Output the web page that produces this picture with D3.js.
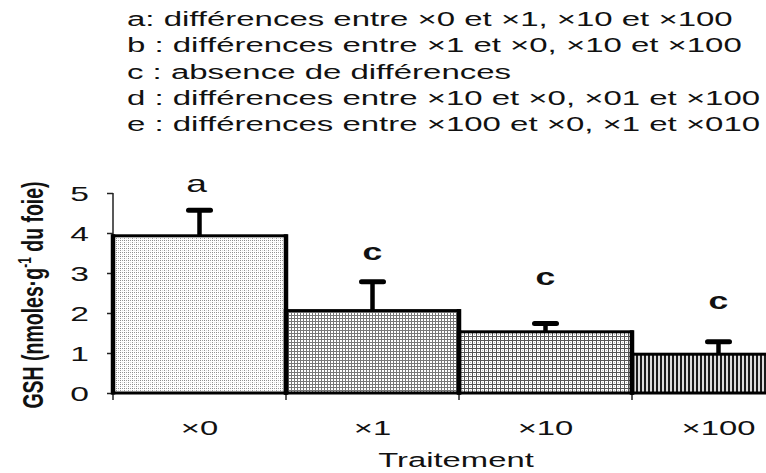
<!DOCTYPE html>
<html>
<head>
<meta charset="utf-8">
<script src="https://cdn.jsdelivr.net/npm/d3@7"></script>
<style>
  body { margin: 0; background: #fff; }
  text { font-family: "Liberation Sans", Arial, sans-serif; fill: #111; }
</style>
</head>
<body>
<div id="plot"></div>
<script>
// values
const categories = ['×0', '×1', '×10', '×100'];
const means = [3.93, 2.06, 1.53, 0.97];
const errors = [0.64, 0.72, 0.21, 0.31];
const letters = ['a', 'c', 'c', 'c'];
const letterLevels = [5.03, 3.33, 2.7, 2.1];
const yTicks = [0, 1, 2, 3, 4, 5];
const legendLines = [
  'a: différences entre  ×0 et ×1, ×10 et ×100',
  'b : différences entre ×1 et ×0, ×10 et ×100',
  'c : absence de différences',
  'd : différences entre ×10 et ×0, ×01 et ×100',
  'e : différences entre ×100 et ×0, ×1 et ×010'
];

const W = 766, H = 473;
const K = 1.6; // the original figure is stretched sideways

const svg = d3.select('#plot')
  .append('svg')
  .attr('width', W)
  .attr('height', H);

svg.append('rect').attr('width', W).attr('height', H).attr('fill', '#fff');

// fill patterns of the four bars
const defs = svg.append('defs');
function pattern(id, w, h, parts) {
  const p = defs.append('pattern')
    .attr('id', id)
    .attr('patternUnits', 'userSpaceOnUse')
    .attr('width', w)
    .attr('height', h);
  p.append('rect').attr('width', w).attr('height', h).attr('fill', '#fff');
  parts.forEach(([px, py, pw, ph, c]) => {
    p.append('rect').attr('x', px).attr('y', py).attr('width', pw).attr('height', ph).attr('fill', c);
  });
}
pattern('p0', 4, 4, [[0, 0, 1, 1, '#888'], [2, 0, 1, 1, '#999'], [0, 2, 1, 1, '#999'], [2, 2, 1, 1, '#ddd']]);
pattern('p1', 3, 3, [[0, 0, 3, 1, '#777'], [0, 0, 1, 3, '#777']]);
pattern('p2', 4, 4, [[0, 0, 4, 1, '#555'], [0, 0, 1, 4, '#555'], [2, 2, 1, 1, '#bbb']]);
pattern('p3', 4, 4, [[0, 0, 2, 4, '#1a1a1a'], [2, 0, 2, 4, '#dcdcdc']]);

const x = d3.scaleBand().domain(categories).range([113, 805]).padding(0);
const y = d3.scaleLinear().domain([0, 5]).range([393, 193]);
const bw = x.bandwidth();

function stretched(g, txt, tx, ty, size, anchor, weight, k) {
  return g.append('text')
    .attr('transform', `translate(${tx},${ty}) scale(${k || K},1)`)
    .attr('text-anchor', anchor || 'start')
    .style('font-size', size + 'px')
    .style('font-weight', weight || 'normal')
    .text(txt);
}

// legend text block
legendLines.forEach((line, i) => {
  stretched(svg, line, 127, 26 + i * 26.3, 20.6, 'start');
});

// y axis
const yAxis = svg.append('g')
  .attr('transform', 'translate(113,0)')
  .call(d3.axisLeft(y).tickValues(yTicks).tickSize(6).tickSizeOuter(0).tickFormat(d3.format('d')));
yAxis.selectAll('path, line').attr('stroke', '#222').attr('stroke-width', 1.5);
yAxis.select('.domain').attr('d', `M0,${y(5)}V${y(0) + 7}`);
yAxis.selectAll('text')
  .attr('x', null).attr('dy', null)
  .attr('transform', `translate(-24,7.5) scale(${K},1)`)
  .style('font-size', '21px')
  .style('font-family', '"Liberation Sans", Arial, sans-serif')
  .attr('fill', '#111');

// x axis line and boundary ticks
svg.append('line')
  .attr('x1', x(categories[0])).attr('x2', W + 50)
  .attr('y1', y(0)).attr('y2', y(0))
  .attr('stroke', '#222').attr('stroke-width', 1.5);
svg.selectAll('.xtick')
  .data(categories.slice(1))
  .enter()
  .append('line')
  .attr('class', 'xtick')
  .attr('x1', (d) => x(d)).attr('x2', (d) => x(d))
  .attr('y1', y(0)).attr('y2', y(0) + 7)
  .attr('stroke', '#222').attr('stroke-width', 1.5);

// bars
categories.forEach((c, i) => {
  svg.append('rect')
    .attr('x', x(c))
    .attr('y', y(means[i]))
    .attr('width', bw)
    .attr('height', y(0) - y(means[i]))
    .attr('fill', `url(#p${i})`)
    .attr('stroke', '#000')
    .attr('stroke-width', 3);
});
// heavier vertical edges
categories.forEach((c, i) => {
  [x(c), x(c) + bw].forEach((ex) => {
    svg.append('line')
      .attr('x1', ex).attr('x2', ex)
      .attr('y1', y(means[i]) - 1.5).attr('y2', y(0) + 1.5)
      .attr('stroke', '#000').attr('stroke-width', 4.5);
  });
});

// error bars (upper half only)
categories.forEach((c, i) => {
  const cx = x(c) + bw / 2;
  const top = y(means[i] + errors[i]);
  svg.append('line')
    .attr('x1', cx).attr('x2', cx)
    .attr('y1', y(means[i])).attr('y2', top)
    .attr('stroke', '#000').attr('stroke-width', 4.5);
  svg.append('line')
    .attr('x1', cx - 11).attr('x2', cx + 11)
    .attr('y1', top).attr('y2', top)
    .attr('stroke', '#000').attr('stroke-width', 5)
    .attr('stroke-linecap', 'round');
});

// significance letters
categories.forEach((c, i) => {
  const bold = letters[i] !== 'a';
  stretched(svg, letters[i], x(c) + bw / 2 + (bold ? 0 : -3), y(letterLevels[i]), bold ? 23 : 24, 'middle', bold ? 'bold' : 'normal', 1.55);
});

// category labels
categories.forEach((c) => {
  stretched(svg, c, x(c) + bw / 2, 435, 20.5, 'middle');
});

stretched(svg, 'Traitement', 456, 467, 20.5, 'middle');

// y axis title, rotated
const yTitle = svg.append('text')
  .attr('transform', `translate(43,295) scale(1.55,1) rotate(-90)`)
  .attr('text-anchor', 'middle')
  .style('font-size', '19.5px')
  .style('font-weight', 'bold');
yTitle.append('tspan').text('GSH (nmoles·g');
yTitle.append('tspan').attr('dy', -8).style('font-size', '12px').text('-1');
yTitle.append('tspan').attr('dy', 8).text(' du foie)');
</script>
</body>
</html>
